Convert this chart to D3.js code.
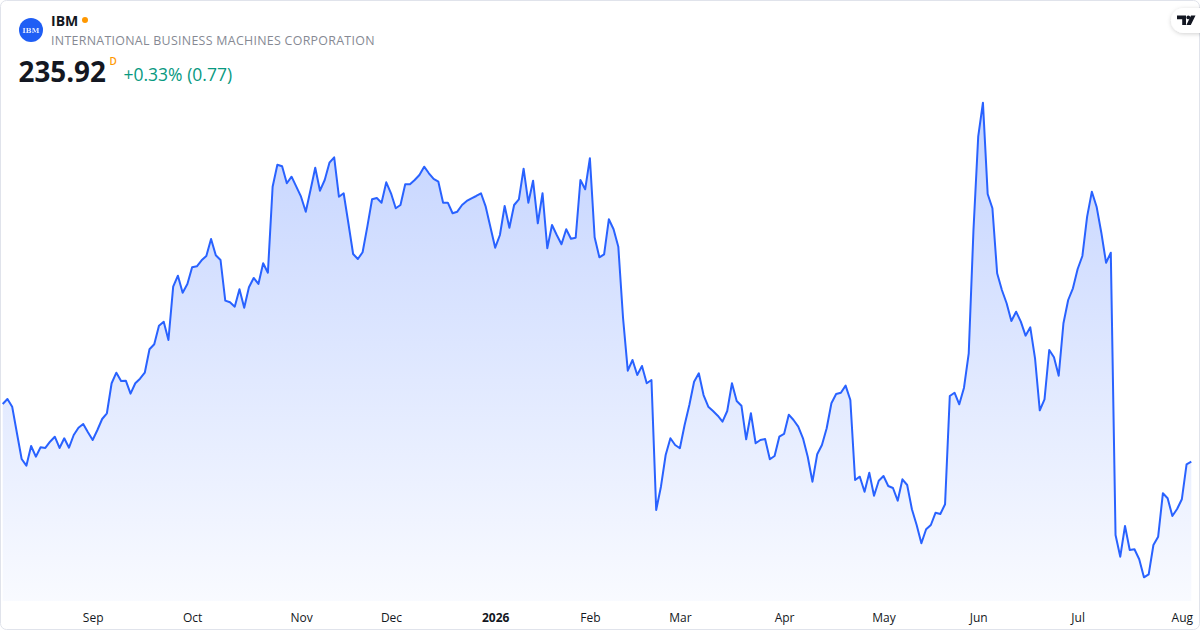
<!DOCTYPE html>
<html>
<head>
<meta charset="utf-8">
<script src="https://cdn.jsdelivr.net/npm/d3@7"></script>
<style>
	html, body { margin: 0; padding: 0; background: #fff; }
	svg { display: block; font-family: 'Open Sans', 'Noto Sans', sans-serif; }
</style>
</head>
<body>
<svg id="chart" width="1200" height="630"></svg>
<script>
// header
var symbol     = 'IBM';
var company    = 'INTERNATIONAL BUSINESS MACHINES CORPORATION';
var lastPrice  = '235.92';
var interval   = 'D';
var changeText = '+0.33% (0.77)';

// daily closes, one per trading day
var closes = [
	  253.00, 254.48, 252.20, 244.42, 236.72, 234.74, 240.57, 237.40, 240.18, 239.98
	, 241.84, 243.32, 239.98, 242.85, 240.06, 243.82, 245.98, 247.08, 244.62, 242.34
	, 245.30, 248.56, 250.25, 259.13, 262.26, 259.81, 259.90, 256.05, 259.13, 260.49
	, 262.26, 269.19, 270.67, 276.18, 277.36, 271.94, 287.72, 290.98, 285.94, 288.52
	, 293.46, 293.76, 295.53, 296.81, 301.84, 297.01, 295.62, 283.58, 283.10, 281.80
	, 286.95, 281.50, 287.54, 290.30, 288.52, 294.65, 291.86, 317.32, 323.83, 323.36
	, 318.33, 320.28, 317.32, 314.36, 309.92, 316.34, 322.94, 316.14, 319.30, 324.42
	, 326.02, 314.36, 315.37, 306.49, 297.40, 295.92, 297.90, 305.48, 313.59, 313.98
	, 312.58, 318.62, 315.37, 310.93, 311.90, 318.03, 318.03, 319.30, 320.78, 323.24
	, 321.29, 319.60, 318.80, 312.58, 312.58, 309.45, 309.92, 311.90, 313.09, 313.89
	, 314.57, 315.37, 311.40, 305.30, 299.26, 303.02, 311.61, 305.18, 311.90, 313.59
	, 322.65, 312.58, 319.10, 306.49, 315.37, 299.09, 305.98, 303.02, 300.27, 304.71
	, 301.93, 302.22, 319.30, 316.55, 325.73, 302.34, 296.42, 297.31, 307.67, 304.71
	, 299.56, 278.46, 262.86, 266.02, 261.58, 264.25, 259.13, 260.10, 221.62, 228.52
	, 237.90, 242.85, 240.86, 239.89, 246.78, 252.70, 259.60, 262.09, 255.66, 252.20
	, 250.93, 249.54, 247.76, 250.93, 259.13, 253.89, 252.50, 242.55, 250.25, 241.37
	, 242.34, 242.64, 236.63, 237.61, 243.32, 244.12, 249.83, 248.26, 246.28, 242.85
	, 237.40, 230.00, 238.11, 240.86, 245.81, 253.21, 255.96, 256.34, 258.42, 254.18
	, 230.50, 231.48, 227.04, 232.66, 225.86, 230.30, 231.69, 228.73, 228.14, 224.38
	, 230.71, 229.02, 221.83, 217.18, 211.77, 215.91, 217.18, 220.82, 220.44, 223.31
	, 255.37, 256.34, 252.91, 257.82, 268.01, 304.50, 332.12, 342.18, 315.16, 310.93
	, 291.69, 286.74, 282.81, 277.57, 280.32, 277.36, 273.22, 275.70, 266.53, 251.13
	, 254.39, 268.98, 266.82, 261.38, 276.89, 283.78, 287.25, 292.96, 296.81, 308.44
	, 315.84, 311.40, 303.70, 294.82, 297.78, 214.22, 207.80, 216.89, 209.78, 209.99
	, 207.03, 201.70, 202.59, 211.26, 213.72, 226.57, 225.09, 219.85, 221.92, 224.79
	, 235.15, 235.92
];

// month starts (trading-day index into closes)
var tickLabels = [ 'Sep', 'Oct', 'Nov', 'Dec', '2026', 'Feb', 'Mar', 'Apr', 'May', 'Jun', 'Jul', 'Aug' ];
var tickIndex  = [ 19, 40, 63, 82, 104, 124, 143, 165, 186, 206, 227, 249 ];

var C = {
	  line   : '#2962ff'
	, text   : '#131722'
	, muted  : '#868993'
	, border : '#e0e3eb'
	, up     : '#089981'
	, orange : '#ff9800'
	, logo   : '#1f5ef5'
};

var svg = d3.select( '#chart' );

var defs = svg.append( 'defs' );
var grad = defs.append( 'linearGradient' )
	.attr( 'id', 'areaFill' )
	.attr( 'gradientUnits', 'userSpaceOnUse' )
	.attr( 'x1', 0 ).attr( 'y1', 102 )
	.attr( 'x2', 0 ).attr( 'y2', 601 );
grad.append( 'stop' ).attr( 'offset', 0 ).attr( 'stop-color', C.line ).attr( 'stop-opacity', 0.28 );
grad.append( 'stop' ).attr( 'offset', 1 ).attr( 'stop-color', C.line ).attr( 'stop-opacity', 0.03 );
defs.append( 'clipPath' )
	.attr( 'id', 'pane' )
	.append( 'rect' )
	.attr( 'x', 1 ).attr( 'y', 1 ).attr( 'width', 1197 ).attr( 'height', 628 );
var shadow = defs.append( 'filter' )
	.attr( 'id', 'pill' )
	.attr( 'x', '-50%' ).attr( 'y', '-50%' ).attr( 'width', '200%' ).attr( 'height', '200%' );
shadow.append( 'feDropShadow' )
	.attr( 'dx', 0 ).attr( 'dy', 1 ).attr( 'stdDeviation', 2 )
	.attr( 'flood-color', '#000' ).attr( 'flood-opacity', 0.18 );

// card
svg.append( 'rect' )
	.attr( 'x', 0.5 ).attr( 'y', 0.5 )
	.attr( 'width', 1199 ).attr( 'height', 629 )
	.attr( 'rx', 6 )
	.attr( 'fill', '#fff' )
	.attr( 'stroke', C.border );

var x = d3.scaleLinear()
	.domain( [ 0, closes.length - 1 ] )
	.range( [ 2.7, 1191.3 ] );
var y = d3.scaleLinear()
	.domain( d3.extent( closes ) )
	.range( [ 577.3, 102.7 ] );

var plot = svg.append( 'g' ).attr( 'clip-path', 'url(#pane)' );

var area = d3.area()
	.x( ( d, i ) => x( i ) )
	.y0( 601 )
	.y1( d => y( d ) );
var line = d3.line()
	.x( ( d, i ) => x( i ) )
	.y( d => y( d ) );

plot.append( 'path' )
	.datum( closes )
	.attr( 'd', area )
	.attr( 'fill', 'url(#areaFill)' );
plot.append( 'path' )
	.datum( closes )
	.attr( 'd', line )
	.attr( 'fill', 'none' )
	.attr( 'stroke', C.line )
	.attr( 'stroke-width', 2 )
	.attr( 'stroke-linejoin', 'round' );

// time axis
var axis = d3.axisBottom( x )
	.tickValues( tickIndex )
	.tickFormat( ( d, i ) => tickLabels[ i ] )
	.tickSize( 0 )
	.tickPadding( 13.5 );
var gx = svg.append( 'g' )
	.attr( 'transform', 'translate(0,600)' )
	.call( axis );
gx.select( '.domain' ).remove();
gx.selectAll( 'text' )
	.attr( 'font-family', "'Open Sans', 'Noto Sans', sans-serif" )
	.attr( 'font-size', 12 )
	.attr( 'fill', C.text )
	.attr( 'font-weight', d => /^\d{4}$/.test( tickLabels[ tickIndex.indexOf( d ) ] ) ? 700 : 400 );

// header
var head = svg.append( 'g' );
head.append( 'circle' )
	.attr( 'cx', 31 ).attr( 'cy', 30 ).attr( 'r', 12 )
	.attr( 'fill', C.logo );
head.append( 'text' )
	.attr( 'x', 31 ).attr( 'y', 32.5 )
	.attr( 'text-anchor', 'middle' )
	.attr( 'font-family', "'DejaVu Serif', serif" )
	.attr( 'font-weight', 700 )
	.attr( 'font-size', 7 )
	.attr( 'fill', '#fff' )
	.attr( 'opacity', 0.85 )
	.text( 'IBM' );
head.append( 'text' )
	.attr( 'x', 51 ).attr( 'y', 25.5 )
	.attr( 'font-size', 14 )
	.attr( 'font-weight', 700 )
	.attr( 'fill', C.text )
	.text( symbol );
head.append( 'circle' )
	.attr( 'cx', 85 ).attr( 'cy', 20 ).attr( 'r', 3 )
	.attr( 'fill', C.orange );
head.append( 'text' )
	.attr( 'x', 51 ).attr( 'y', 45 )
	.attr( 'font-size', 12.4 )
	.attr( 'letter-spacing', 0.3 )
	.attr( 'fill', C.muted )
	.text( company );
head.append( 'text' )
	.attr( 'x', 18.5 ).attr( 'y', 82 )
	.attr( 'font-size', 27.8 )
	.attr( 'font-weight', 700 )
	.attr( 'fill', C.text )
	.text( lastPrice );
head.append( 'text' )
	.attr( 'x', 109.5 ).attr( 'y', 65 )
	.attr( 'font-size', 10 )
	.attr( 'font-weight', 600 )
	.attr( 'fill', C.orange )
	.text( interval );
head.append( 'text' )
	.attr( 'x', 123.5 ).attr( 'y', 81 )
	.attr( 'font-size', 17.5 )
	.attr( 'fill', C.up )
	.text( changeText );

// tv badge, top right
var badge = svg.append( 'g' );
badge.append( 'rect' )
	.attr( 'x', 1171 ).attr( 'y', 8 )
	.attr( 'width', 50 ).attr( 'height', 25 )
	.attr( 'rx', 12.5 )
	.attr( 'fill', '#fff' )
	.attr( 'filter', 'url(#pill)' );
badge.append( 'path' )
	.attr( 'd', 'M1177,15.5 H1186 V25 H1182.2 V19.3 H1177 Z M1191,15.5 H1195.5 L1190.8,25 H1186.4 Z' )
	.attr( 'fill', C.text );
badge.append( 'circle' )
	.attr( 'cx', 1188.3 ).attr( 'cy', 17.4 ).attr( 'r', 1.9 )
	.attr( 'fill', C.text );
</script>
</body>
</html>
